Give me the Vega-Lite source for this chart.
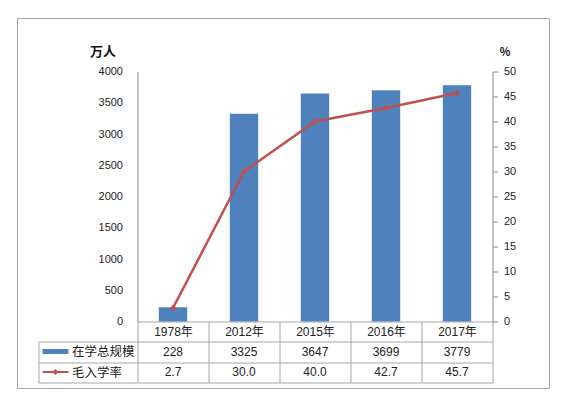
{
  "$schema": "https://vega.github.io/schema/vega-lite/v6.json",
  "padding": {"left": 17.5, "top": 18.5, "right": 5, "bottom": 5},
  "background": "white",
  "config": {
    "view": {"stroke": null},
    "font": "Liberation Sans, Noto Sans CJK SC",
    "axis": {"labelFont": "Liberation Sans, Noto Sans CJK SC", "titleFont": "Noto Sans CJK SC, Liberation Sans", "labelColor": "#222222", "titleColor": "#111111"}
  },
  "datasets": {
    "edu": [
      {"year": "1978年", "scale": 228, "rate": 2.7},
      {"year": "2012年", "scale": 3325, "rate": 30.0},
      {"year": "2015年", "scale": 3647, "rate": 40.0},
      {"year": "2016年", "scale": 3699, "rate": 42.7},
      {"year": "2017年", "scale": 3779, "rate": 45.7}
    ]
  },
  "spacing": 20,
  "bounds": "flush",
  "resolve": {"scale": {"color": "independent", "stroke": "independent"}, "legend": {"color": "independent", "stroke": "independent"}},
  "vconcat": [
    {
      "width": 355,
      "height": 250,
      "data": {"name": "edu"},
      "encoding": {
        "x": {
          "field": "year", "type": "nominal", "sort": null,
          "scale": {"type": "band", "domain": ["1978年", "2012年", "2015年", "2016年", "2017年"], "paddingInner": 0, "paddingOuter": 0},
          "axis": {"orient": "bottom", "domainColor": "#A6A6A6", "tickBand": "extent", "tickSize": 20, "tickColor": "#A6A6A6", "labelPadding": -10, "labelBaseline": "middle", "labelFontSize": 12, "labelAngle": 0, "title": null, "grid": false}
        }
      },
      "layer": [
        {
          "mark": {"type": "bar", "width": {"band": 0.4}, "strokeWidth": 0},
          "encoding": {
            "y": {
              "field": "scale", "type": "quantitative",
              "scale": {"domain": [0, 4000]},
              "axis": {"orient": "left", "values": [0, 500, 1000, 1500, 2000, 2500, 3000, 3500, 4000], "format": "d", "ticks": false, "domainColor": "#868686", "labelPadding": 15, "labelFontSize": 11, "grid": false, "title": "万人", "titleAngle": 0, "titleX": -35, "titleY": -20, "titleAlign": "center", "titleBaseline": "middle", "titleFontSize": 13, "titleFontWeight": "bold"}
            },
            "color": {
              "datum": "在学总规模", "type": "nominal",
              "scale": {"domain": ["在学总规模", "毛入学率"], "range": ["#4F81BD", "#C0504D"]},
              "legend": {
                "orient": "none", "legendX": -99, "legendY": 273.5, "title": null, "padding": 0,
                "direction": "vertical",
                "symbolSize": 169, "symbolOffset": 10.5, "labelOffset": 4, "rowPadding": 7.5,
                "labelExpr": "''", "labelOpacity": 0, "labelFontSize": 12, "symbolStrokeWidth": 0,
                "encode": {
                  "symbols": {
                    "update": {
                      "shape": {"signal": "datum.value === '在学总规模' ? 'M-2,-0.38H2V0.38H-2Z' : 'M-2,-0.16H2V0.16H-2Z M-0.46,0L0,-0.46L0.46,0L0,0.46Z'"},
                      "fill": {"signal": "datum.value === '在学总规模' ? '#4F81BD' : '#C0504D'"},
                      "stroke": {"value": "transparent"},
                      "opacity": {"value": 1}
                    }
                  }
                }
              }
            },
            "stroke": {
              "field": "scale", "type": "quantitative",
              "scale": {"range": ["#ffffff", "#ffffff"]},
              "legend": {
                "orient": "none", "legendX": -120, "legendY": -53, "title": null, "padding": 0,
                "direction": "horizontal", "gradientLength": 532, "gradientThickness": 370,
                "gradientStrokeColor": "#A6A6A6", "gradientStrokeWidth": 1,
                "labelExpr": "''", "labelOpacity": 0, "labelFontSize": 1, "tickCount": 1,
                "encode": {"gradient": {"update": {"fillOpacity": {"value": 0}}}}
              }
            }
          }
        },
        {
          "mark": {"type": "line", "strokeWidth": 2.5, "point": {"shape": "diamond", "size": 40, "filled": true}},
          "encoding": {
            "y": {
              "field": "rate", "type": "quantitative",
              "scale": {"domain": [0, 50]},
              "axis": {"orient": "right", "values": [0, 5, 10, 15, 20, 25, 30, 35, 40, 45, 50], "tickSize": 5, "tickColor": "#868686", "domainColor": "#868686", "labelPadding": 6, "labelFontSize": 11, "grid": false, "title": "%", "titleAngle": 0, "titleX": 12, "titleY": -19, "titleAlign": "center", "titleBaseline": "middle", "titleFontSize": 11, "titleFontWeight": "bold"}
            },
            "color": {"datum": "毛入学率", "type": "nominal"}
          }
        }
      ],
      "resolve": {"scale": {"y": "independent"}}
    },
    {
      "width": 355,
      "height": 41,
      "data": {"name": "edu"},
      "encoding": {
        "x": {
          "field": "year", "type": "nominal", "sort": null,
          "scale": {"type": "band", "domain": ["1978年", "2012年", "2015年", "2016年", "2017年"], "paddingInner": 0, "paddingOuter": 0},
          "axis": {"orient": "bottom", "labels": false, "ticks": false, "domain": false, "grid": true, "tickBand": "extent", "gridColor": "#A6A6A6", "gridOpacity": 1, "title": null}
        }
      },
      "layer": [
        {
          "mark": {"type": "text", "fontSize": 12, "color": "#222222"},
          "encoding": {
            "y": {
              "datum": "在学总规模", "type": "nominal",
              "scale": {"type": "band", "domain": ["在学总规模", "毛入学率"], "paddingInner": 0, "paddingOuter": 0},
              "axis": {"orient": "left", "offset": 99, "labels": true, "labelAlign": "left", "labelBaseline": "middle", "labelPadding": 66, "labelFont": "Noto Sans CJK SC", "labelFontSize": 12.5, "labelColor": "#222222", "domainColor": "#A6A6A6", "ticks": true, "tickBand": "extent", "tickSize": -99, "tickColor": "#A6A6A6", "grid": true, "gridColor": "#A6A6A6", "gridOpacity": 1, "title": null}
            },
            "text": {"field": "scale", "type": "quantitative", "format": "d"}
          }
        },
        {
          "mark": {"type": "text", "fontSize": 12, "color": "#222222"},
          "encoding": {
            "y": {"datum": "毛入学率", "type": "nominal"},
            "text": {"field": "rate", "type": "quantitative", "format": ".1f"}
          }
        }
      ]
    }
  ]
}
